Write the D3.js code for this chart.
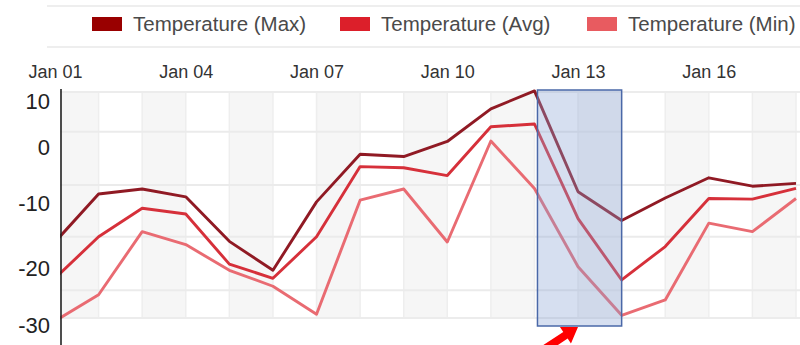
<!DOCTYPE html>
<html>
<head>
<meta charset="utf-8">
<script src="https://cdn.jsdelivr.net/npm/d3@7/dist/d3.min.js"></script>
<style>
  html, body { margin: 0; padding: 0; background: #fff; }
  svg { display: block; font-family: "Liberation Sans", Arial, sans-serif; }
</style>
</head>
<body>
<div id="chart"></div>
<script>
// ---- data ----
const days = ["2018-01-01","2018-01-02","2018-01-03","2018-01-04","2018-01-05","2018-01-06",
  "2018-01-07","2018-01-08","2018-01-09","2018-01-10","2018-01-11","2018-01-12",
  "2018-01-13","2018-01-14","2018-01-15","2018-01-16","2018-01-17","2018-01-18"];
const tempMax = [-16.0, -8.4, -7.5, -8.9, -15.9, -20.4, -9.8, -1.3, -1.7, 1.2, 8.3, 12.2,
  -8.0, -12.7, -9.1, -5.5, -7.0, -6.5];
const tempAvg = [-21.8, -15.2, -10.8, -11.7, -19.4, -21.8, -15.2, -3.5, -3.7, -5.1, 4.4, 5.0,
  -12.4, -22.1, -16.7, -9.2, -9.3, -7.4];
const tempMin = [-29.3, -24.7, -14.4, -16.4, -20.4, -23.2, -28.1, -9.5, -7.5, -16.0, 1.3, -7.4,
  -19.8, -28.3, -25.6, -13.1, -14.4, -9.2];
const seriesNames = ["Temperature (Max)", "Temperature (Avg)", "Temperature (Min)"];
const yTicks = [10, 0, -10, -20, -30];
const xTickDays = ["2018-01-01","2018-01-04","2018-01-07","2018-01-10","2018-01-13","2018-01-16"];
const gridValues = [3.3, -6.8, -15.2, -23.9];
const highlight = ["2018-01-12", "2018-01-14"];

// ---- setup ----
const W = 800, H = 345;
const parse = d3.timeParse("%Y-%m-%d");
const dates = days.map(parse);
const lineColors = ["#8a0e18", "#d4252f", "#e8636a"];
const swatchColors = ["#990000", "#dc1f2a", "#e85b60"];
const plotLeft = 60, plotRight = 800, plotTop = 92, plotBottom = 318;

const svg = d3.select("#chart").append("svg").attr("width", W).attr("height", H);

const x = d3.scaleTime().domain([dates[0], dates[dates.length - 1]]).range([55, 796]);
const y = d3.scaleLinear().domain([-30, -20, -10, 0, 10]).range([325, 268, 203, 147, 101]);

// top decoration lines
[6, 47].forEach(yy => svg.append("line").attr("x1", 47).attr("x2", W).attr("y1", yy).attr("y2", yy)
  .attr("stroke", "#e8e8e8").attr("stroke-width", 1.5));

// clip
svg.append("defs").append("clipPath").attr("id", "plotclip").append("rect")
  .attr("x", plotLeft).attr("y", 0).attr("width", plotRight - plotLeft).attr("height", H);

const plot = svg.append("g").attr("clip-path", "url(#plotclip)");

// alternating bands
for (let i = 0; i < dates.length - 1; i += 2) {
  plot.append("rect").attr("x", x(dates[i])).attr("y", plotTop)
    .attr("width", x(dates[i + 1]) - x(dates[i])).attr("height", plotBottom - plotTop)
    .attr("fill", "#f6f6f6");
}
// vertical faint grid
plot.selectAll(".vg").data(dates).enter().append("line")
  .attr("x1", d => x(d)).attr("x2", d => x(d)).attr("y1", plotTop).attr("y2", plotBottom)
  .attr("stroke", "#eeeeee").attr("stroke-width", 1.5);
// horizontal faint grid
plot.selectAll(".hg").data(gridValues).enter().append("line")
  .attr("x1", plotLeft).attr("x2", plotRight).attr("y1", d => y(d)).attr("y2", d => y(d))
  .attr("stroke", "#ebebeb").attr("stroke-width", 2);
[plotTop, plotBottom].forEach(yy => plot.append("line").attr("x1", plotLeft).attr("x2", plotRight)
  .attr("y1", yy).attr("y2", yy).attr("stroke", "#ececec").attr("stroke-width", 2));

// lines
const line = d3.line().x((d, i) => x(dates[i])).y(d => y(d));
[tempMin, tempAvg, tempMax].forEach((s, k) => {
  const idx = 2 - k;
  plot.append("path").datum(s).attr("d", line).attr("fill", "none")
    .attr("stroke", lineColors[idx]).attr("stroke-width", 2.9)
    .attr("stroke-linejoin", "round").attr("stroke-opacity", 0.95);
});

// highlight box
const hx0 = x(parse(highlight[0])) + 3, hx1 = x(parse(highlight[1]));
svg.append("rect").attr("x", hx0).attr("y", 90).attr("width", hx1 - hx0).attr("height", 236)
  .attr("fill", "rgb(138,164,212)").attr("fill-opacity", 0.35)
  .attr("stroke", "#4a68a8").attr("stroke-width", 1.5);

// y axis line
svg.append("line").attr("x1", 61).attr("x2", 61).attr("y1", 89).attr("y2", H)
  .attr("stroke", "#222").attr("stroke-width", 1.6);

// y axis labels
const yAxis = d3.axisLeft(y).tickValues(yTicks).tickSize(0).tickPadding(0).tickFormat(d => String(d));
const gy = svg.append("g").attr("transform", "translate(50,0)").call(yAxis);
gy.select(".domain").remove();
gy.selectAll("text").attr("font-size", 22).attr("fill", "#222")
  .attr("font-family", "'Liberation Sans', Arial, sans-serif");

// x axis labels (top)
const xAxis = d3.axisTop(x).tickValues(xTickDays.map(parse)).tickSize(0).tickPadding(0)
  .tickFormat(d3.timeFormat("Jan %d"));
const gx = svg.append("g").attr("transform", "translate(0,78)").call(xAxis);
gx.select(".domain").remove();
gx.selectAll("text").attr("font-size", 18).attr("fill", "#333").attr("font-weight", 500)
  .attr("font-family", "'Liberation Sans', Arial, sans-serif");

// legend
const legendX = [92, 340, 587];
seriesNames.forEach((n, i) => {
  const g = svg.append("g").attr("transform", `translate(${legendX[i]},17)`);
  g.append("rect").attr("width", 30).attr("height", 14).attr("fill", swatchColors[i]);
  g.append("text").attr("x", 41).attr("y", 14).attr("font-size", 20.5).attr("fill", "#4a4a4a")
    .text(n);
});

// red arrow annotation
const tip = [578, 327], tail = [540, 352];
const ang = Math.atan2(tip[1] - tail[1], tip[0] - tail[0]);
const ux = Math.cos(ang), uy = Math.sin(ang), px = -uy, py = ux;
const headL = 15, headW = 10, shaftW = 4;
const bx = tip[0] - ux * headL, by = tip[1] - uy * headL;
const pts = [
  tip,
  [bx + px * headW, by + py * headW],
  [bx + px * shaftW, by + py * shaftW],
  [tail[0] + px * shaftW, tail[1] + py * shaftW],
  [tail[0] - px * shaftW, tail[1] - py * shaftW],
  [bx - px * shaftW, by - py * shaftW],
  [bx - px * headW, by - py * headW]
];
svg.append("path").attr("d", d3.line()(pts) + "Z").attr("fill", "#ff0000");
</script>
</body>
</html>
